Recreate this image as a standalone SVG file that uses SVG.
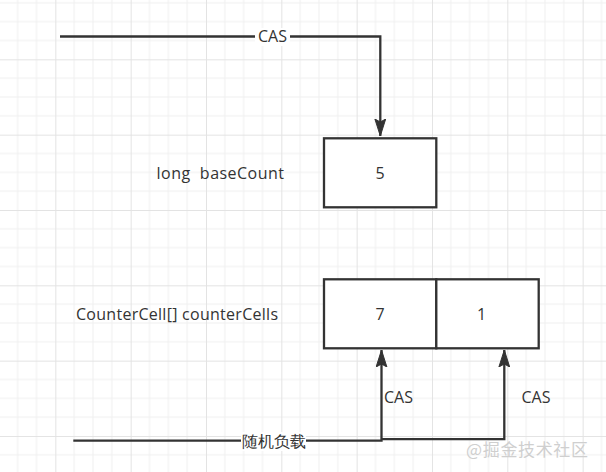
<svg xmlns="http://www.w3.org/2000/svg" width="606" height="472" viewBox="0 0 606 472">
<defs>
<pattern id="grid" patternUnits="userSpaceOnUse" x="-20" y="-16" width="75.33" height="75.33">
<path d="M18.83 0V75.33M37.67 0V75.33M56.5 0V75.33M0 18.83H75.33M0 37.67H75.33M0 56.5H75.33" stroke="#f0f0f0" stroke-width="1" fill="none"/>
<path d="M0.5 0V75.33M0 0.5H75.33" stroke="#e3e3e3" stroke-width="1" fill="none"/>
</pattern>
<marker id="arr" markerUnits="userSpaceOnUse" viewBox="0 0 18 12" refX="17" refY="6" markerWidth="18" markerHeight="12" orient="auto">
<path d="M0 0.6L17 6L0 11.4L3 6Z" fill="#333" stroke="#333" stroke-width="1"/>
</marker>
</defs>
<style>
.box{fill:#fff;stroke:#333;stroke-width:2.3}
.edge{fill:none;stroke:#333;stroke-width:2.3}
.t{font-family:"Open Sans","Liberation Sans",sans-serif;font-size:16px;fill:#333}
.lbl{fill:#fff}
.wm{font-family:"Noto Sans CJK SC",sans-serif;font-size:17px;fill:#cfcfcf}
</style>
<rect width="606" height="472" fill="#fff"/>
<rect width="606" height="472" fill="url(#grid)"/>
<g id="connectors">
<path class="edge" d="M60 36.5H380.3V136" marker-end="url(#arr)"/>
<path class="edge" d="M73.3 440.7H381.5V350" marker-end="url(#arr)"/>
<path class="edge" d="M381.5 439.2H504.3V350" marker-end="url(#arr)"/>
<rect class="lbl" x="255" y="28" width="35" height="18"/>
<text class="t" x="272.5" y="42" text-anchor="middle">CAS</text>
<rect class="lbl" x="241" y="432" width="65" height="19"/>
<text class="t" x="273.7" y="447" text-anchor="middle" font-family="'Noto Sans CJK SC',sans-serif">随机负载</text>
<text class="t" x="384" y="402.5">CAS</text>
<text class="t" x="521.5" y="402.5">CAS</text>
</g>
<g id="baseCount">
<rect class="box" x="324" y="138.3" width="112.3" height="69"/>
<text class="t" x="380.2" y="179" text-anchor="middle">5</text>
</g>
<g id="baseCountLabel">
<text class="t" x="156.5" y="179" textLength="127.5" xml:space="preserve">long&#160;&#160;baseCount</text>
</g>
<g id="cell0">
<rect class="box" x="324" y="279.3" width="112.3" height="69"/>
<text class="t" x="380.2" y="319.5" text-anchor="middle">7</text>
</g>
<g id="cell1">
<rect class="box" x="436.3" y="279.3" width="102.4" height="69"/>
<text class="t" x="481.5" y="319.5" text-anchor="middle">1</text>
</g>
<g id="counterCellsLabel">
<text class="t" x="76" y="319.5" textLength="202">CounterCell[] counterCells</text>
</g>
<text class="wm" x="466" y="455.5" textLength="122">@掘金技术社区</text>
</svg>
